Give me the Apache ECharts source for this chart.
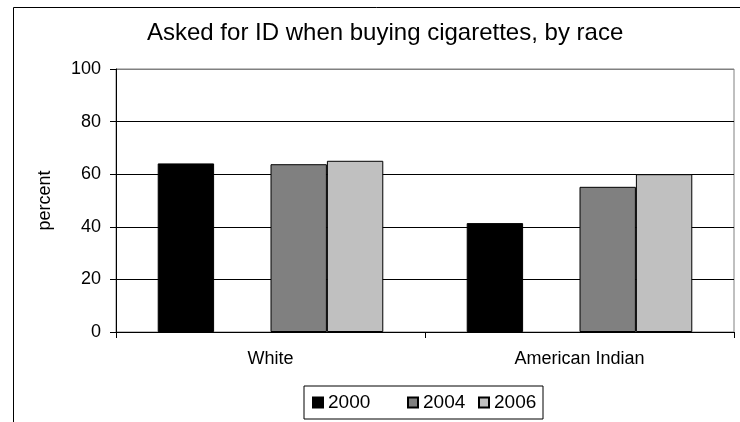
<!DOCTYPE html>
<html>
<head>
<meta charset="utf-8">
<script src="https://cdn.jsdelivr.net/npm/echarts@6/dist/echarts.min.js"></script>
<style>
html,body{margin:0;padding:0;background:#fff;}
#chart{width:740px;height:422px;}
</style>
</head>
<body>
<div id="chart"></div>
<script>
var titleText = 'Asked for ID when buying cigarettes, by race';
var categories = ['White', 'American Indian'];
var seriesNames = ['2000', '2004', '2006'];
var values2000 = [64.1, 41.4];
var values2004 = [63.8, 55.2];
var values2006 = [65.1, 60.0];
var yTicks = [0, 20, 40, 60, 80, 100];
var yAxisName = 'percent';

var FONT = "'Liberation Sans', Arial, sans-serif";
var chart = echarts.init(document.getElementById('chart'), null, {renderer: 'canvas'});

var barBorder = {borderColor: '#000', borderWidth: 1};

chart.setOption({
  animation: false,
  backgroundColor: '#fff',
  textStyle: {fontFamily: FONT, color: '#000'},
  title: {
    text: titleText,
    left: 147,
    top: 21,
    padding: 0,
    textStyle: {fontFamily: FONT, fontSize: 24, fontWeight: 'normal', color: '#000'}
  },
  graphic: [{
    type: 'polyline',
    shape: {points: [[13.5, 422], [13.5, 7.5], [740, 7.5]]},
    style: {stroke: '#000', lineWidth: 1, fill: null},
    silent: true
  }],
  legend: {
    data: seriesNames,
    left: 304,
    top: 386,
    orient: 'horizontal',
    padding: [7, 4, 7, 8],
    itemGap: 10,
    itemWidth: 10,
    itemHeight: 10,
    icon: 'rect',
    borderColor: '#000',
    borderWidth: 1,
    textStyle: {
      fontFamily: FONT, fontSize: 19, color: '#000',
      rich: {
        a: {fontFamily: FONT, fontSize: 19, width: 69, lineHeight: 20, color: '#000'},
        b: {fontFamily: FONT, fontSize: 19, width: 45, lineHeight: 20, color: '#000'},
        c: {fontFamily: FONT, fontSize: 19, width: 45, lineHeight: 20, color: '#000'}
      }
    },
    formatter: function (name) {
      var key = name === seriesNames[0] ? 'a' : (name === seriesNames[1] ? 'b' : 'c');
      return '{' + key + '|' + name + '}';
    }
  },
  grid: {
    left: 116,
    right: 6,
    top: 69,
    bottom: 90,
    show: true,
    borderColor: '#808080',
    borderWidth: 1,
    backgroundColor: 'transparent'
  },
  xAxis: {
    type: 'category',
    data: categories,
    axisLine: {show: true, lineStyle: {color: '#000', width: 1}},
    axisTick: {show: true, length: 6, alignWithLabel: false, lineStyle: {color: '#000'}},
    axisLabel: {fontFamily: FONT, fontSize: 18, color: '#000', margin: 18},
    splitLine: {show: false}
  },
  yAxis: {
    type: 'value',
    min: yTicks[0],
    max: yTicks[yTicks.length - 1],
    interval: yTicks[1] - yTicks[0],
    name: yAxisName,
    nameLocation: 'middle',
    nameGap: 62,
    nameRotate: 90,
    nameTextStyle: {fontFamily: FONT, fontSize: 18, color: '#000'},
    axisLine: {show: true, lineStyle: {color: '#000', width: 1}},
    axisTick: {show: true, length: 6, lineStyle: {color: '#000'}},
    axisLabel: {fontFamily: FONT, fontSize: 18, color: '#000', margin: 15},
    splitLine: {show: true, lineStyle: {color: ['#000', '#000', '#000', '#000', '#000', '#808080'], width: 1}}
  },
  series: [
    {name: seriesNames[0], type: 'bar', data: values2000, barGap: '0%', barCategoryGap: '27%',
      itemStyle: Object.assign({color: '#000000'}, barBorder)},
    {name: 'blank', type: 'bar', data: [null, null], barGap: '0%', barCategoryGap: '27%',
      itemStyle: {color: 'transparent'}},
    {name: seriesNames[1], type: 'bar', data: values2004, barGap: '0%', barCategoryGap: '27%',
      itemStyle: Object.assign({color: '#808080'}, barBorder)},
    {name: seriesNames[2], type: 'bar', data: values2006, barGap: '0%', barCategoryGap: '27%',
      itemStyle: Object.assign({color: '#c0c0c0'}, barBorder)}
  ]
});
</script>
</body>
</html>
